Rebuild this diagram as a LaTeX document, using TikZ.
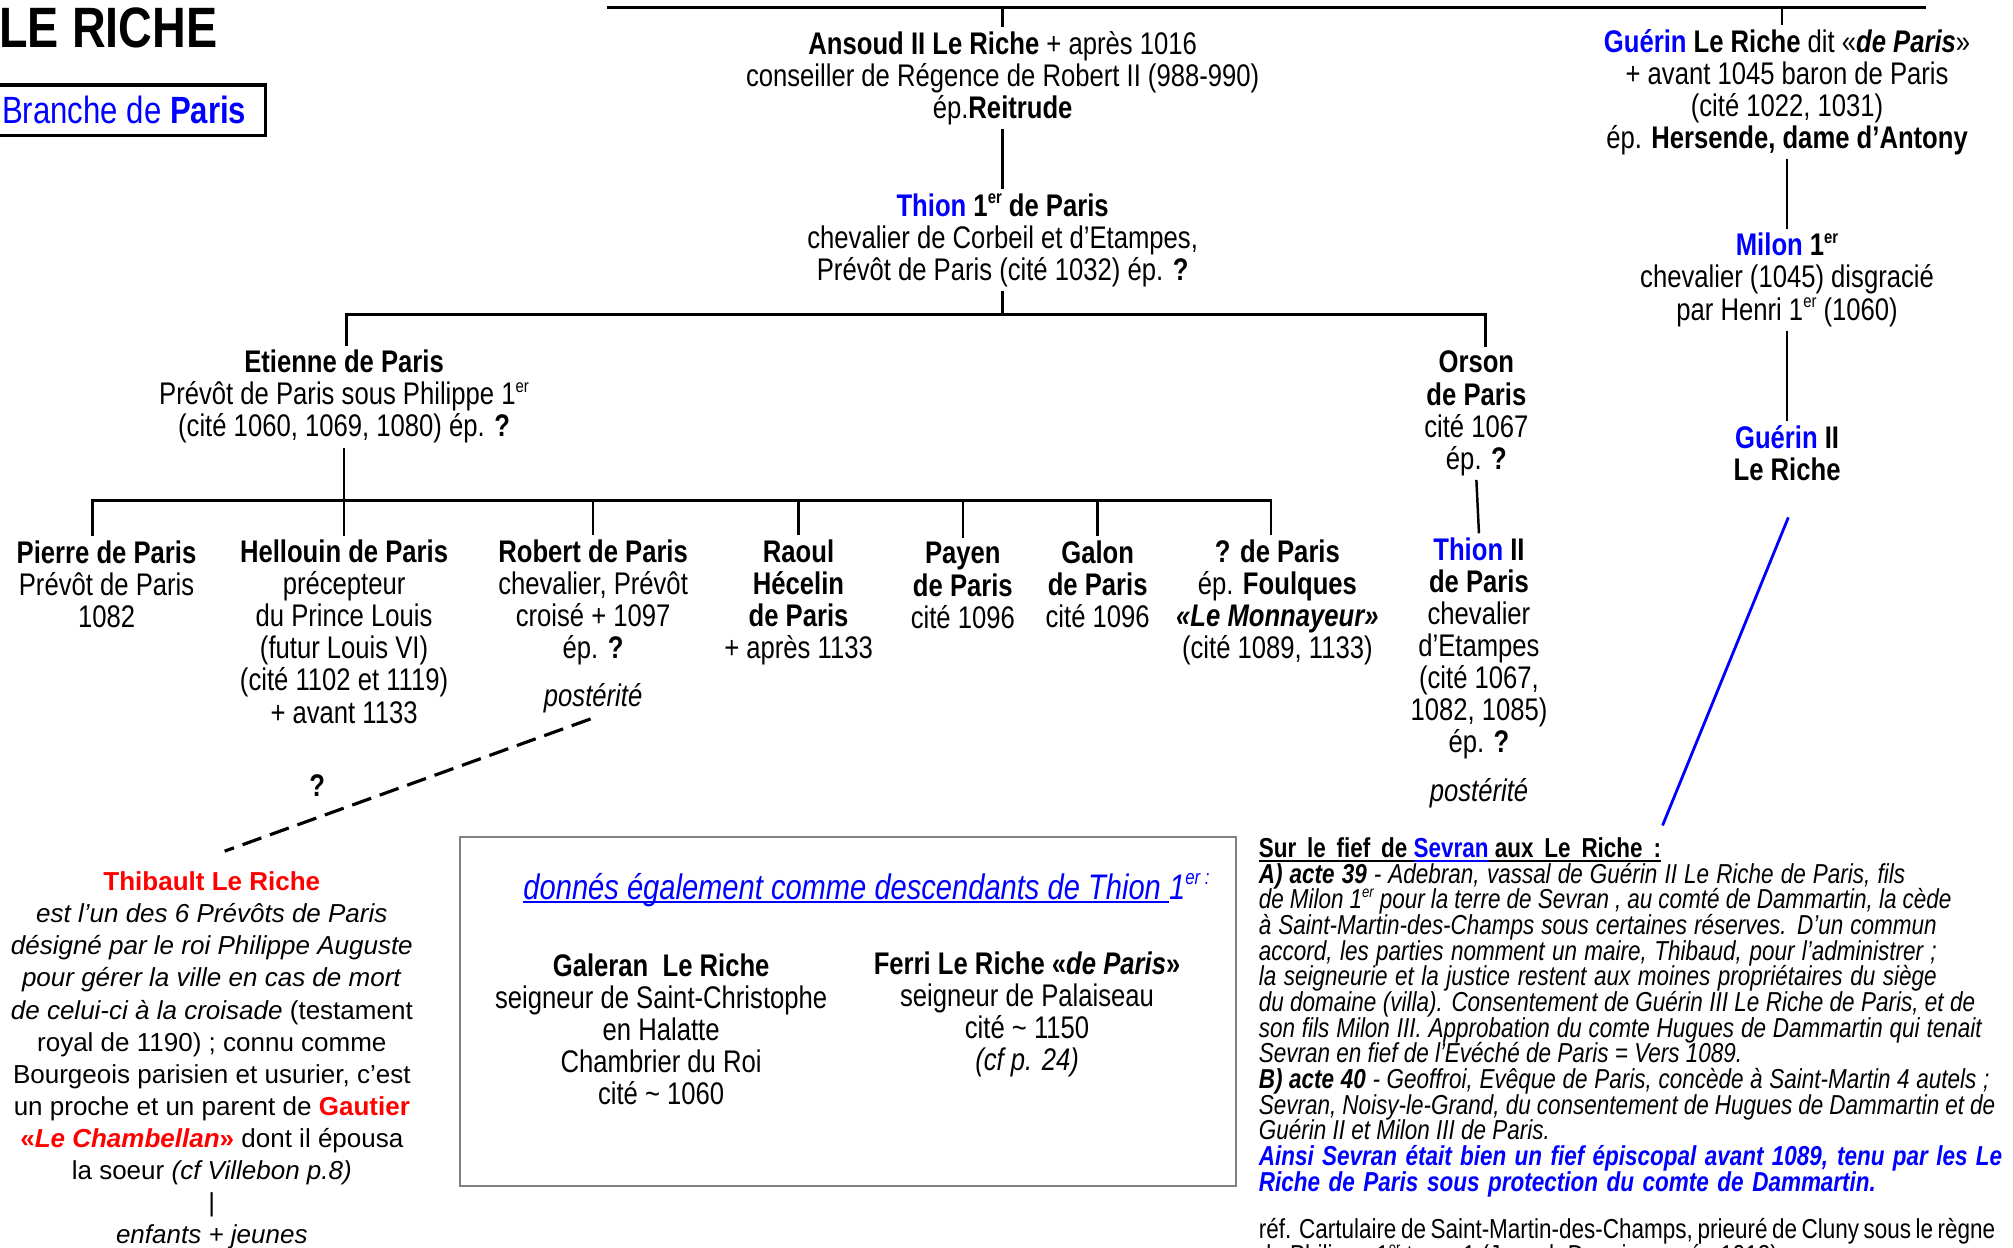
\documentclass[tikz,border=0pt]{standalone}
\usepackage{fontspec}
\usepackage{graphicx}
\setmainfont{Liberation Sans}
\newfontfamily\narrow[FakeStretch=0.82]{Liberation Sans}
\definecolor{nameblue}{RGB}{0,0,255}
\definecolor{namered}{RGB}{255,0,0}
\newlength\pxu
\setlength\pxu{0.12838mm}
\lineskiplimit=-20pt
\newcommand\treefont{\narrow\fontsize{8.9}{9.13}\selectfont}
\newcommand\notefont{\narrow\fontsize{7.8}{7.3}\selectfont}
\newcommand\storyfont{\fontsize{7.4}{9.13}\selectfont}
\newcommand\bl[1]{\textcolor{nameblue}{#1}}
\newcommand\jl[2]{\makebox[#1\pxu][s]{#2}}
\newcommand\ersup[1]{\raisebox{0.4em}{\scalebox{0.58}{#1}}}
\newsavebox\ulbox
\newcommand\ulbar[1]{\sbox\ulbox{#1}\rlap{\rule[-1.2pt]{\wd\ulbox}{0.55pt}}\usebox\ulbox}
\begin{document}
\begin{tikzpicture}[x=0.12838mm,y=-0.12838mm,
  person/.style={align=center,inner sep=1pt,font=\treefont},
  kin/.style={line width=0.7pt},
  guess/.style={line width=0.9pt,dash pattern=on 5.7pt off 2.6pt},
  sevranlink/.style={nameblue,line width=0.8pt}]
  \useasboundingbox (0,0) rectangle (1568,972);
  % title and branch
  \node[anchor=base west,inner sep=0pt,font=\narrow\fontsize{16.2}{18}\selectfont\bfseries] (title) at (-1,37) {LE RICHE};
  \node[draw,line width=0.9pt,anchor=north east,minimum height=39\pxu,inner xsep=15\pxu,inner ysep=0pt,
        font=\narrow\fontsize{10.8}{12}\selectfont,text=nameblue] (branche) at (208,65) {Branche de \textbf{Paris}};
  % first generations
  \node[person] (ansoud) at (781,61) {\textbf{Ansoud II Le Riche} + après 1016\\conseiller de Régence de Robert II (988-990)\\ép.\textbf{Reitrude}};
  \node[person] (thion) at (781,187) {\textbf{\bl{Thion} 1\ersup{er} de Paris}\\chevalier de Corbeil et d’Etampes,\\Prévôt de Paris (cité 1032) ép. \textbf{?}};
  \node[person] (guerin) at (1392,72) {\textbf{\bl{Guérin} Le Riche} dit «\textbf{\textit{de Paris}}»\\+ avant 1045 baron de Paris\\(cité 1022, 1031)\\ép. \textbf{Hersende, dame d’Antony}};
  \node[person] (milon) at (1392,218) {\textbf{\bl{Milon} 1\ersup{er}}\\chevalier (1045) disgracié\\par Henri 1\ersup{er} (1060)};
  \node[person] (guerin2) at (1392,353) {\textbf{\bl{Guérin} II}\\\textbf{Le Riche}};
  \node[person] (etienne) at (268,309) {\textbf{Etienne de Paris}\\Prévôt de Paris sous Philippe 1\ersup{er}\\(cité 1060, 1069, 1080) ép. \textbf{?}};
  \node[person] (orson) at (1150,322) {\textbf{Orson}\\\textbf{de Paris}\\cité 1067\\ép. \textbf{?}};
  % children of Etienne
  \node[person] (pierre) at (83,455) {\textbf{Pierre de Paris}\\Prévôt de Paris\\1082};
  \node[person] (hellouin) at (268,492) {\textbf{Hellouin de Paris}\\précepteur\\du Prince Louis\\(futur Louis VI)\\(cité 1102 et 1119)\\+ avant 1133};
  \node[person] (robert) at (462,469) {\textbf{Robert de Paris}\\chevalier, Prévôt\\croisé + 1097\\ép. \textbf{?}};
  \node[person,font=\treefont\itshape] (posterity1) at (462,544) {postérité};
  \node[person] (raoul) at (622,469) {\textbf{Raoul}\\\textbf{Hécelin}\\\textbf{de Paris}\\+ après 1133};
  \node[person] (payen) at (750,456) {\textbf{Payen}\\\textbf{de Paris}\\cité 1096};
  \node[person] (galon) at (855,455) {\textbf{Galon}\\\textbf{de Paris}\\cité 1096};
  \node[person] (qparis) at (995,469) {\textbf{? de Paris}\\ép. \textbf{Foulques}\\\textbf{\textit{«Le Monnayeur»}}\\(cité 1089, 1133)};
  \node[person] (thion2) at (1152,505) {\textbf{\bl{Thion} II}\\\textbf{de Paris}\\chevalier\\d’Etampes\\(cité 1067,\\1082, 1085)\\ép. \textbf{?}};
  \node[person,font=\treefont\itshape] (posterity2) at (1152,618) {postérité};
  % Thibault
  \node[font=\treefont\bfseries] (unsure) at (247,612) {?};
  \node[align=center,inner sep=1pt,font=\storyfont] (thibault) at (165,826) {\textcolor{namered}{\textbf{Thibault Le Riche}}\\
    \textit{est l’un des 6 Prévôts de Paris}\\
    \textit{désigné par le roi Philippe Auguste}\\
    \textit{pour gérer la ville en cas de mort}\\
    \textit{de celui-ci à la croisade} (testament\\
    royal de 1190) ; connu comme\\
    Bourgeois parisien et usurier, c’est\\
    un proche et un parent de \textcolor{namered}{\textbf{Gautier}}\\
    \textcolor{namered}{\textbf{«\textit{Le Chambellan}»}} dont il épousa\\
    la soeur \textit{(cf Villebon p.8)}\\
    |\\
    \textit{enfants + jeunes}};
  % other descendants
  \node[draw=gray,line width=0.6pt,minimum width=605\pxu,minimum height=272\pxu,inner sep=0pt] (others) at (660.5,788) {};
  \node[inner sep=0pt,font=\narrow\fontsize{10.1}{12}\selectfont\itshape,text=nameblue] (donnes) at (675,693)
    {\ulbar{donnés également comme descendants de Thion }1\ersup{er :}};
  \node[person] (galeran) at (515,802) {\textbf{Galeran~ Le Riche}\\seigneur de Saint-Christophe\\en Halatte\\Chambrier du Roi\\cité \textasciitilde{} 1060};
  \node[person] (ferri) at (800,790) {\textbf{Ferri Le Riche «\textit{de Paris}»}\\seigneur de Palaiseau\\cité \textasciitilde{} 1150\\\textit{(cf p. 24)}};
  % Sevran
  \node[anchor=north west,align=left,inner sep=0pt,font=\notefont\itshape] (sevran) at (980,652) {%
    \ulbar{\upshape\textbf{Sur\, le\, fief\, de }}\textcolor{nameblue}{\ulbar{\upshape\textbf{Sevran}}}\ulbar{\upshape\textbf{ aux\, Le\, Riche\, :}}\\
    \jl{503.5}{\textbf{A) acte 39} - Adebran, vassal de Guérin II Le Riche de Paris, fils}\\
    \jl{539.5}{de Milon 1\ersup{er} pour la terre de Sevran , au comté de Dammartin, la cède}\\
    \jl{528}{à Saint-Martin-des-Champs sous certaines réserves. D’un commun}\\
    \jl{528}{accord, les parties nomment un maire, Thibaud, pour l’administrer ;}\\
    \jl{528}{la seigneurie et la justice restent aux moines propriétaires du siège}\\
    \jl{558}{du domaine (villa). Consentement de Guérin III Le Riche de Paris, et de}\\
    \jl{563}{son fils Milon III. Approbation du comte Hugues de Dammartin qui tenait}\\
    Sevran en fief de l’Evéché de Paris = Vers 1089.\\
    \jl{569}{\textbf{B) acte 40} - Geoffroi, Evêque de Paris, concède à Saint-Martin 4 autels ;}\\
    \jl{573.6}{Sevran, Noisy-le-Grand, du consentement de Hugues de Dammartin et de}\\
    Guérin II et Milon III de Paris.\\
    \jl{579}{\textcolor{nameblue}{\textbf{Ainsi Sevran était bien un fief épiscopal avant 1089, tenu par les Le}}}\\
    \jl{480.7}{\textcolor{nameblue}{\textbf{Riche de Paris sous protection du comte de Dammartin.}}}\\[17\pxu]
    \jl{573.6}{\upshape réf. Cartulaire de Saint-Martin-des-Champs, prieuré de Cluny sous le règne}\\
    {\upshape de Philippe 1\ersup{er} tome 1 (Joseph Depoin, année 1912)}};
  % connectors
  \coordinate (topbus-l) at (473,6);
  \coordinate (topbus-r) at (1500,6);
  \coordinate (sons) at (0,245);
  \coordinate (kids) at (0,390);
  \draw[kin] (topbus-l) -- (topbus-r);
  \draw[kin] (ansoud.north |- topbus-l) -- (ansoud.north);
  \draw[kin] ([xshift=-4\pxu]guerin.north |- topbus-l) -- ([xshift=-4\pxu]guerin.north);
  \draw[kin] (ansoud.south) -- (thion.north);
  \draw[kin] (thion.south) -- (thion.south |- sons);
  \draw[kin] ([xshift=2\pxu]etienne.north) |- ([xshift=7\pxu]orson.north |- sons) -- ([xshift=7\pxu]orson.north);
  \draw[kin] (etienne.south) -- (etienne.south |- kids);
  \draw[kin] ([xshift=-11\pxu]pierre.north) |- ([xshift=-5\pxu]qparis.north |- kids) -- ([xshift=-5\pxu]qparis.north);
  \foreach \p in {hellouin,robert,raoul,payen,galon} \draw[kin] (\p.north |- kids) -- (\p.north);
  \draw[kin] (orson.south) -- (thion2.north);
  \draw[kin] (guerin.south) -- (milon.north);
  \draw[kin] (milon.south) -- (guerin2.north);
  \coordinate (guess-a) at (460,560);
  \coordinate (guess-b) at (175,663);
  \draw[guess] (guess-a) -- (guess-b);
  \coordinate (link-a) at (1393,403);
  \coordinate (link-b) at (1295,643);
  \draw[sevranlink] (link-a) -- (link-b);
\end{tikzpicture}
\end{document}
